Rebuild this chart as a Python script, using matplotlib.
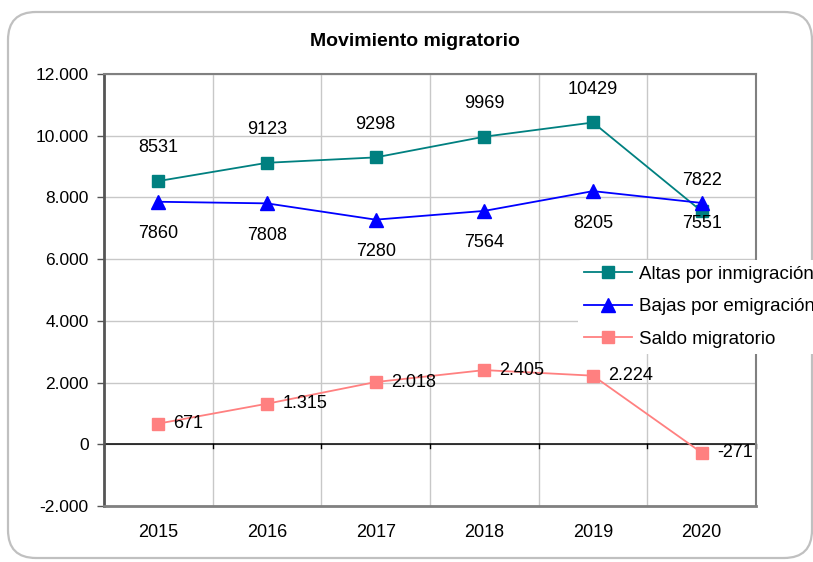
import matplotlib
matplotlib.use('Agg')
import matplotlib.pyplot as plt
from matplotlib.patches import FancyBboxPatch
from matplotlib.transforms import IdentityTransform
from matplotlib.ticker import FuncFormatter

plt.rcParams['font.family'] = ['Liberation Sans', 'DejaVu Sans']

years = ['2015', '2016', '2017', '2018', '2019', '2020']
altas = [8531, 9123, 9298, 9969, 10429, 7551]
bajas = [7860, 7808, 7280, 7564, 8205, 7822]
saldo = [671, 1315, 2018, 2405, 2224, -271]
y_ticks = [-2000, 0, 2000, 4000, 6000, 8000, 10000, 12000]

TEAL = '#008080'
BLUE = '#0000FF'
SALMON = '#FF8080'


def miles(v, pos=None):
    # Spanish thousands separator
    return f"{int(v):,}".replace(',', '.')


fig = plt.figure(figsize=(8.13, 5.62), dpi=100, facecolor='white')
ax = fig.add_axes([0.1279, 0.0996, 0.802, 0.7687])

x = list(range(len(years)))
ax.plot(x, altas, color=TEAL, marker='s', markersize=8, linewidth=1.3,
        label='Altas por inmigración', zorder=3)
ax.plot(x, bajas, color=BLUE, marker='^', markersize=9.5, linewidth=1.3,
        label='Bajas por emigración', zorder=3)
ax.plot(x, saldo, color=SALMON, marker='s', markersize=8, linewidth=1.3,
        label='Saldo migratorio', zorder=3)

# data labels (2020: labels of the two upper series swap sides)
last = len(years) - 1
for i, v in enumerate(altas):
    dy = -9 if i == last else 24
    ax.annotate(str(v), (i, v), xytext=(0, dy), textcoords='offset points',
                ha='center', va='center', fontsize=13, zorder=4)
for i, v in enumerate(bajas):
    dy = 16.5 if i == last else -23
    ax.annotate(str(v), (i, v), xytext=(0, dy), textcoords='offset points',
                ha='center', va='center', fontsize=13, zorder=4)
for i, v in enumerate(saldo):
    ax.annotate(miles(v), (i, v), xytext=(11, 0), textcoords='offset points',
                ha='left', va='center', fontsize=13, zorder=4)

ax.set_xlim(-0.5, len(years) - 0.5)
ax.set_ylim(-2000, 12000)
ax.set_yticks(y_ticks)
ax.yaxis.set_major_formatter(FuncFormatter(miles))
ax.set_xticks(x)
ax.set_xticklabels(years)
ax.tick_params(axis='x', length=0, pad=13, labelsize=13)
ax.tick_params(axis='y', length=5, width=1, color='#555555', labelsize=12.5, pad=6)

# gridlines: horizontal at majors, vertical at category boundaries
for yv in y_ticks:
    ax.axhline(yv, color='#c8c8c8', linewidth=1, zorder=0)
for b in range(1, len(years)):
    ax.axvline(b - 0.5, color='#c8c8c8', linewidth=1, zorder=0)
ax.axhline(0, color='black', linewidth=1.1, zorder=1)
for b in range(len(years) + 1):
    ax.plot([b - 0.5, b - 0.5], [0, -120], color='black', linewidth=1, zorder=1,
            clip_on=False)

ax.spines['left'].set_color('#555555')
ax.spines['left'].set_linewidth(2)
ax.spines['top'].set_color('#808080')
ax.spines['top'].set_linewidth(1.5)
ax.spines['right'].set_color('#808080')
ax.spines['right'].set_linewidth(1.5)
ax.spines['bottom'].set_color('#808080')
ax.spines['bottom'].set_linewidth(2)

fig.text(0.51, 0.927, 'Movimiento migratorio', ha='center', va='center',
         fontsize=14, fontweight='bold')

# legend sits over the plot's right side and runs past the figure edge,
# as in the original
leg = fig.legend(loc='upper left', bbox_to_anchor=(0.711, 0.537), fontsize=13.5,
                 frameon=True, facecolor='white', edgecolor='none', framealpha=1,
                 handlelength=2.6, handletextpad=0.35, labelspacing=0.82,
                 borderpad=0.3, borderaxespad=0)

# rounded frame around the chart
frame = FancyBboxPatch((8, 4), 804, 546, boxstyle='round,pad=0,rounding_size=28',
                       transform=IdentityTransform(), facecolor='none',
                       edgecolor='#c0c0c0', linewidth=1.6)
fig.add_artist(frame)

plt.savefig('out.png', dpi=100)
plt.close()
